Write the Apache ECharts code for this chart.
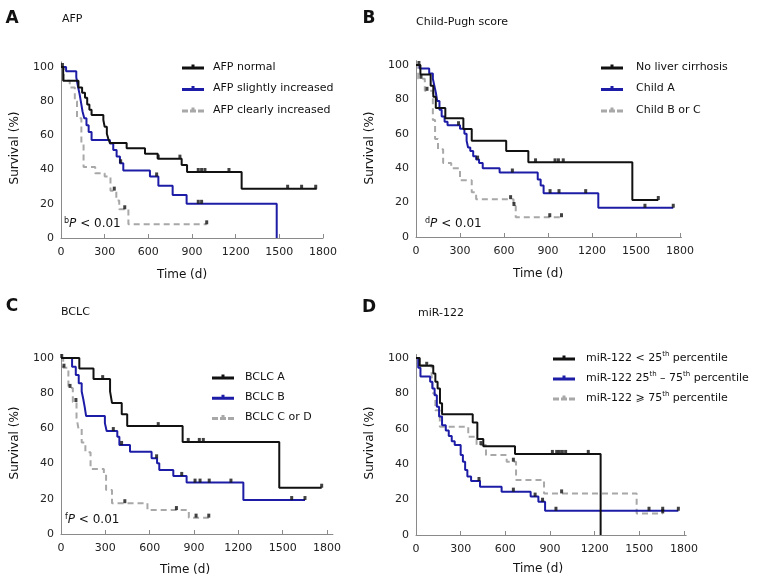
<!DOCTYPE html>
<html><head><meta charset="utf-8">
<script src="https://cdn.jsdelivr.net/npm/echarts@6/dist/echarts.min.js"></script>
<style>html,body{margin:0;padding:0;background:#fff}#c{width:761px;height:587px}</style>
</head><body><div id="c"></div>
<script>
// ---- tick labels ----
const xTicks = [0, 300, 600, 900, 1200, 1500, 1800];
const yTicks = [0, 20, 40, 60, 80, 100];

// ---- Panel A: AFP ----
const afpNames = ['AFP normal', 'AFP slightly increased', 'AFP clearly increased'];
const afpNormal = [[0,100],[15,92],[120,88],[145,85],[165,82],[180,78],[195,75],[210,72],[291,69],[300,65],[315,61],[325,58],[337,55.5],[451,52.5],[577,49.2],[665,46.4],[829,42.7],[866,38.6],[1241,28.8],[1757,28.8]];
const afpNormalCens = [[10,100],[668,46.4],[817,46.4],[943,38.6],[966,38.6],[989,38.6],[1154,38.6],[1557,28.8],[1653,28.8],[1750,28.8]];
const afpSlight = [[0,100],[35,97.5],[105,94],[118,88],[128,84],[138,79],[148,74],[160,70],[175,66],[190,62],[210,57.3],[336,55.3],[359,51.5],[382,47.6],[405,43.7],[428,39.5],[611,36],[669,30.6],[767,25.1],[863,20],[1482,0]];
const afpSlightCens = [[410,43.7],[657,36],[943,20],[966,20]];
const afpClear = [[0,100],[20,92],[60,88],[95,80],[110,70],[140,55],[155,41.5],[235,37.8],[300,36],[340,27.7],[380,22],[400,16.8],[463,8],[1001,8]];
const afpClearCens = [[366,27.7],[438,16.8],[1001,8]];

// ---- Panel B: Child-Pugh score ----
const cpNames = ['No liver cirrhosis', 'Child A', 'Child B or C'];
const noCirr = [[0,100],[30,94.5],[100,88],[118,81.6],[135,75],[200,69],[323,62.8],[380,56],[615,50],[766,43.4],[1475,21.5],[1652,21.5]];
const noCirrCens = [[20,100],[815,43.4],[948,43.4],[971,43.4],[1004,43.4],[1652,21.5]];
const childA = [[0,100],[25,98],[90,95],[115,92],[125,88],[135,84],[145,79],[160,74],[175,70],[195,67],[215,65],[300,63],[330,60],[345,56],[355,52],[370,50],[390,47],[410,45],[430,43],[455,40],[570,37.5],[830,33.5],[850,30],[870,25.5],[1243,17],[1754,17]];
const childACens = [[290,65],[420,45],[657,37.5],[914,25.5],[975,25.5],[1157,25.5],[1561,17],[1754,17]];
const childBC = [[0,100],[15,92],[60,85],[115,68],[130,57],[150,51],[185,43],[240,40],[300,33],[380,26],[410,22],[665,18],[680,11.5],[992,11.5]];
const childBCCens = [[34,92],[75,85],[645,22],[668,18],[912,11.5],[992,11.5]];

// ---- Panel C: BCLC ----
const bclcNames = ['BCLC A', 'BCLC B', 'BCLC C or D'];
const bclcA = [[0,100],[124,94],[220,88],[332,81],[345,74.5],[411,68],[448,61.3],[823,52.3],[1477,26.3],[1764,26.3]];
const bclcACens = [[5,100],[282,88],[658,61.3],[861,52.3],[936,52.3],[963,52.3],[1764,26.3]];
const bclcB = [[0,100],[75,95],[100,90.3],[120,85.6],[140,81],[150,77],[160,72.4],[170,67],[297,63],[309,58.5],[381,55.3],[395,50.6],[467,46.8],[613,43],[650,40.2],[665,36.4],[760,33],[850,29.2],[1234,19.3],[1651,19.3]];
const bclcBCens = [[354,58.5],[410,50.6],[647,43],[817,33],[907,29.2],[941,29.2],[1003,29.2],[1150,29.2],[1561,19.3],[1651,19.3]];
const bclcCD = [[0,100],[15,94.5],[50,83],[80,75],[105,66],[118,60],[140,52],[165,46.5],[200,37],[290,34],[305,25],[345,17.5],[585,13.6],[865,9.3],[1000,9.3]];
const bclcCDCens = [[20,94.5],[61,83],[101,75],[432,17.5],[781,13.6],[914,9.3],[1000,9.3]];

// ---- Panel D: miR-122 ----
const mirNames = ['miR-122 < 25th percentile', 'miR-122 25th \u2013 75th percentile', 'miR-122 \u2A7E 75th percentile'];
const mirLow = [[0,100],[25,95.6],[116,91.3],[130,86.6],[145,82.8],[161,74.4],[175,68.2],[381,63.6],[412,54.2],[452,50.2],[665,45.8],[1240,0]];
const mirLowCens = [[72,95.6],[916,45.8],[945,45.8],[963,45.8],[983,45.8],[1005,45.8],[1157,45.8]];
const mirMid = [[0,100],[15,94.5],[30,89.5],[95,86.6],[110,82.8],[125,79],[140,72.5],[155,67],[175,62],[200,59],[220,56],[240,53],[260,50.8],[300,45.2],[315,41.4],[330,36.7],[345,33],[370,30.5],[430,27.3],[575,24.5],[770,21.7],[822,18.8],[867,13.7],[1762,13.7]];
const mirMidCens = [[423,30.5],[654,24.5],[800,21.7],[850,18.8],[940,13.7],[1565,13.7],[1657,13.7],[1762,13.7]];
const mirHigh = [[0,100],[20,96],[105,90.5],[115,80],[130,70.5],[160,61.2],[351,55.5],[407,50.8],[470,45.2],[609,41.4],[672,31.1],[860,23.5],[1482,12.2],[1657,12.2]];
const mirHighCens = [[436,50.8],[654,41.4],[978,23.5],[1657,12.2]];

// ---- layout / style ----
const FONT = 'DejaVu Sans';
const BLACK = '#111111', BLUE = '#1c1ca6', GRAY = '#a8a8a8';
const AXIS = '#8a8a8a';

const panels = [
  {x0:61,  x1800:323, xmax:1800, y0:238, y100:67,  ymax:103},
  {x0:416, x1800:680, xmax:1810, y0:237, y100:65,  ymax:102.5},
  {x0:61,  x1800:327, xmax:1840, y0:534, y100:358, ymax:102},
  {x0:416, x1800:684, xmax:1815, y0:535, y100:358, ymax:102}
];

const grids = [], xAxes = [], yAxes = [];
panels.forEach((p, i) => {
  const w = (p.x1800 - p.x0) * p.xmax / 1800;
  const h = (p.y0 - p.y100) * p.ymax / 100;
  grids.push({left: p.x0, top: p.y0 - h, width: w, height: h});
  xAxes.push({
    type: 'value', gridIndex: i, min: 0, max: p.xmax,
    axisLine: {lineStyle: {color: AXIS, width: 1}},
    axisTick: {show: true, inside: true, length: 4, customValues: xTicks, lineStyle: {color: AXIS}},
    axisLabel: {customValues: xTicks, margin: 9, fontFamily: FONT, fontSize: 11, color: '#222',
      formatter: v => String(v)},
    splitLine: {show: false}
  });
  yAxes.push({
    type: 'value', gridIndex: i, min: 0, max: p.ymax,
    axisLine: {show: true, lineStyle: {color: AXIS, width: 1}},
    axisTick: {show: false, customValues: yTicks},
    axisLabel: {customValues: yTicks, margin: 7, fontFamily: FONT, fontSize: 11, color: '#222',
      formatter: v => String(v)},
    splitLine: {show: false}
  });
});

const solidIcon = 'path://M0,3H22V6H0Z M9.5,1H12.5V4H9.5Z';
const dashIcon = 'path://M0,3H6V6H0Z M8,3H14V6H8Z M16,3H22V6H16Z M9.5,1H12.5V4H9.5Z';

function curve(name, data, color, dashed, gi, z) {
  return {
    type: 'line', name: name, data: data, step: 'end',
    xAxisIndex: gi, yAxisIndex: gi, symbol: 'none', z: z,
    lineStyle: {color: color, width: 2, type: dashed ? [6, 4] : 'solid'},
    itemStyle: {color: color}, silent: true
  };
}
function cens(data, gi) {
  return {
    type: 'scatter', data: data, xAxisIndex: gi, yAxisIndex: gi,
    symbol: 'rect', symbolSize: [3, 4], symbolOffset: [0, -2], z: 5,
    itemStyle: {color: '#111'}, silent: true
  };
}

const groups = [
  {names: afpNames, curves: [afpNormal, afpSlight, afpClear], cens: [afpNormalCens, afpSlightCens, afpClearCens]},
  {names: cpNames, curves: [noCirr, childA, childBC], cens: [noCirrCens, childACens, childBCCens]},
  {names: bclcNames, curves: [bclcA, bclcB, bclcCD], cens: [bclcACens, bclcBCens, bclcCDCens]},
  {names: mirNames, curves: [mirLow, mirMid, mirHigh], cens: [mirLowCens, mirMidCens, mirHighCens]}
];
const colors = [BLACK, BLUE, GRAY];
const series = [];
groups.forEach((g, gi) => {
  [2, 1, 0].forEach(k => {
    series.push(curve(g.names[k], g.curves[k], colors[k], k === 2, gi, 3 + (2 - k) * 0.1));
  });
  g.cens.forEach(c => series.push(cens(c, gi)));
});

const legendPos = [
  {left: 182, top: 60, gap: 7.5, pad: 4},
  {left: 601, top: 60, gap: 7.5, pad: 8},
  {left: 212, top: 370, gap: 6.3, pad: 6},
  {left: 553, top: 351, gap: 6, pad: 6}
];
const legends = groups.map((g, gi) => ({
  orient: 'vertical', left: legendPos[gi].left, top: legendPos[gi].top,
  padding: 0, itemGap: legendPos[gi].gap, itemWidth: 22, itemHeight: 12,
  selectedMode: false,
  itemStyle: {borderWidth: 0},
  data: g.names.map((n, k) => ({name: n, icon: k === 2 ? dashIcon : solidIcon})),
  formatter: function (name) { return name.replace(/(\d+)th/g, '$1{sup|th}'); },
  textStyle: {
    fontFamily: FONT, fontSize: 11, color: '#111', lineHeight: 14,
    padding: [0, 0, 0, legendPos[gi].pad],
    rich: {sup: {fontFamily: FONT, fontSize: 7, lineHeight: 9, verticalAlign: 'top', color: '#111'}}
  }
}));

function txt(x, y, text, opts) {
  return Object.assign({type: 'text', x: x, y: y, silent: true,
    style: Object.assign({text: text, fill: '#111', font: '12px "DejaVu Sans"', align: 'left', verticalAlign: 'middle'}, opts || {})});
}
function ytitle(x, y) {
  return {type: 'text', x: x, y: y, rotation: Math.PI / 2, silent: true,
    style: {text: 'Survival (%)', fill: '#111', font: '12px "DejaVu Sans"', align: 'center', verticalAlign: 'middle'}};
}
const pRich = {
  s: {fontFamily: FONT, fontSize: 8, lineHeight: 9, verticalAlign: 'top', fill: '#111'},
  i: {fontFamily: FONT, fontSize: 12, fontStyle: 'italic', lineHeight: 15, fill: '#111'},
  n: {fontFamily: FONT, fontSize: 12, lineHeight: 15, fill: '#111'}
};
const graphics = [
  txt(12, 19, 'A', {font: 'bold 17px "DejaVu Sans"', align: 'center'}),
  txt(62, 19, 'AFP', {font: '11px "DejaVu Sans"'}),
  txt(369, 19, 'B', {font: 'bold 17px "DejaVu Sans"', align: 'center'}),
  txt(416, 22, 'Child-Pugh score', {font: '11px "DejaVu Sans"'}),
  txt(12, 307, 'C', {font: 'bold 17px "DejaVu Sans"', align: 'center'}),
  txt(61, 312, 'BCLC', {font: '11px "DejaVu Sans"'}),
  txt(369, 308, 'D', {font: 'bold 17px "DejaVu Sans"', align: 'center'}),
  txt(418, 313, 'miR-122', {font: '11px "DejaVu Sans"'}),
  ytitle(15, 148), ytitle(370, 148), ytitle(15, 443), ytitle(370, 443),
  txt(182, 275, 'Time (d)', {align: 'center'}),
  txt(538, 274, 'Time (d)', {align: 'center'}),
  txt(185, 570, 'Time (d)', {align: 'center'}),
  txt(538, 569, 'Time (d)', {align: 'center'}),
  txt(64, 224, '{s|b}{i|P}{n| < 0.01}', {rich: pRich}),
  txt(425, 224, '{s|d}{i|P}{n| < 0.01}', {rich: pRich}),
  txt(65, 520, '{s|f}{i|P}{n| < 0.01}', {rich: pRich})
];

const chart = echarts.init(document.getElementById('c'), null, {renderer: 'canvas'});
chart.setOption({
  animation: false,
  backgroundColor: '#ffffff',
  textStyle: {fontFamily: FONT},
  grid: grids, xAxis: xAxes, yAxis: yAxes,
  legend: legends,
  series: series,
  graphic: graphics
});
</script></body></html>
